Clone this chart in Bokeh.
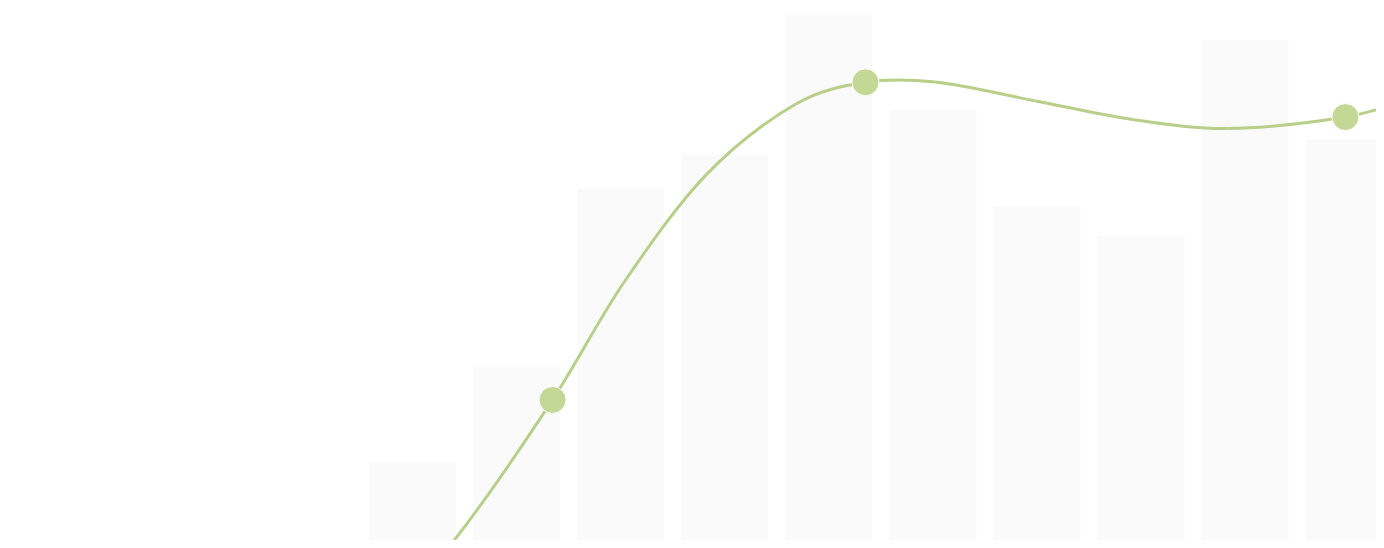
import numpy as np
from bokeh.plotting import figure
from bokeh.models import Range1d, ColumnDataSource
from bokeh.embed import file_html
from bokeh.resources import INLINE

# Bars (category index, value)
bar_idx = [0, 1, 2, 3, 4, 5, 6, 7, 8, 9]
bar_vals = [15.9, 35.2, 71.4, 78.4, 106.7, 87.5, 67.8, 61.8, 101.6, 81.4]

# Smooth line series (x in category units, y in value units)
line_x = [-0.139, 0.402, 1.344, 2.026, 2.822, 3.682, 4.351, 5.020,
          5.975, 6.931, 7.838, 8.963, 9.605]
line_y = [-11.2, 0.14, 28.54, 52.26, 74.26, 88.6, 93.0, 93.06,
          89.26, 85.4, 83.6, 85.94, 89.6]

# Points that carry a marker
mark_x = [1.344, 4.351, 8.963]
mark_y = [28.54, 93.0, 85.94]

BAR_COLOR = "#fafafa"
LINE_COLOR = "#b8cf89"
MARK_COLOR = "#c4d896"

p = figure(width=1376, height=540, output_backend="svg", toolbar_location=None,
           x_range=Range1d(-3.961, 9.262), y_range=Range1d(0, 109.6),
           min_border=0, background_fill_color="white", border_fill_color="white")
p.axis.visible = False
p.grid.visible = False
p.outline_line_color = None

p.vbar(x=bar_idx, top=bar_vals, bottom=-5, width=0.834, fill_color=BAR_COLOR, line_color=None)

# Cubic Hermite smoothing (y as a function of x), drawn with Bokeh's bezier glyph
X = np.array(line_x)
Y = np.array(line_y)
m = np.zeros_like(Y)
m[1:-1] = (Y[2:] - Y[:-2]) / (X[2:] - X[:-2])
m[0] = (Y[1] - Y[0]) / (X[1] - X[0])
m[-1] = (Y[-1] - Y[-2]) / (X[-1] - X[-2])
h = X[1:] - X[:-1]
src = ColumnDataSource(dict(
    x0=X[:-1], y0=Y[:-1], x1=X[1:], y1=Y[1:],
    cx0=X[:-1] + h / 3, cy0=Y[:-1] + m[:-1] * h / 3,
    cx1=X[1:] - h / 3, cy1=Y[1:] - m[1:] * h / 3))
p.bezier(x0="x0", y0="y0", x1="x1", y1="y1", cx0="cx0", cy0="cy0", cx1="cx1", cy1="cy1",
         source=src, line_color=LINE_COLOR, line_width=3)

p.scatter(mark_x, mark_y, size=27, fill_color=MARK_COLOR, line_color="white", line_width=1)

open("out.html", "w").write(file_html(p, INLINE))
